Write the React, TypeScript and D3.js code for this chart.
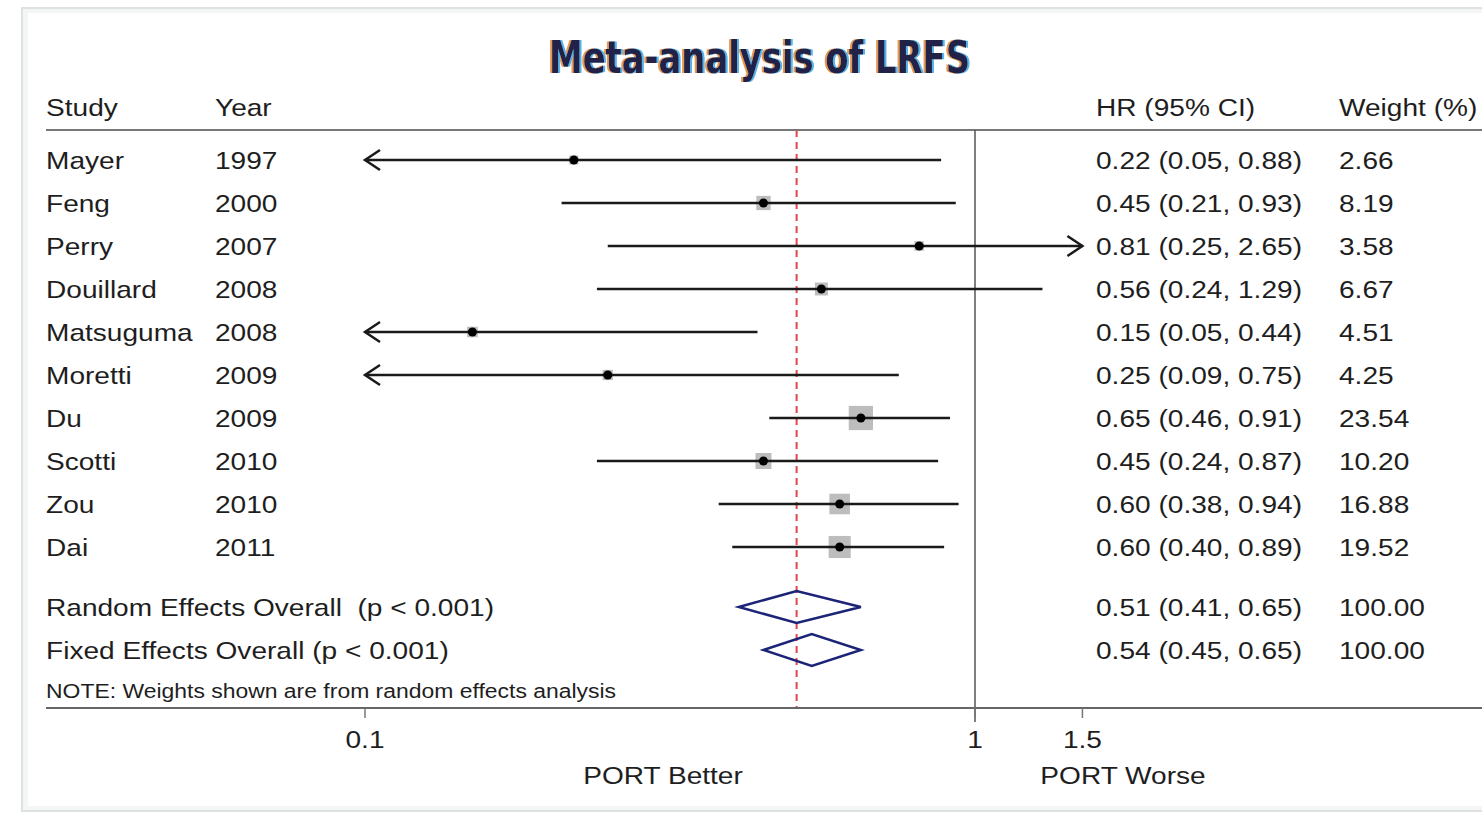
import * as d3 from "d3";

const studies = ["Mayer", "Feng", "Perry", "Douillard", "Matsuguma", "Moretti", "Du", "Scotti", "Zou", "Dai"];
const years = ["1997", "2000", "2007", "2008", "2008", "2009", "2009", "2010", "2010", "2011"];
const hr = [0.22, 0.45, 0.81, 0.56, 0.15, 0.25, 0.65, 0.45, 0.6, 0.6];
const lower = [0.05, 0.21, 0.25, 0.24, 0.05, 0.09, 0.46, 0.24, 0.38, 0.4];
const upper = [0.88, 0.93, 2.65, 1.29, 0.44, 0.75, 0.91, 0.87, 0.94, 0.89];
const weights = ["2.66", "8.19", "3.58", "6.67", "4.51", "4.25", "23.54", "10.20", "16.88", "19.52"];

const overallLabels = ["Random Effects Overall  (p < 0.001)", "Fixed Effects Overall (p < 0.001)"];
const overallHr = [0.51, 0.54];
const overallLower = [0.41, 0.45];
const overallUpper = [0.65, 0.65];
const overallWeights = ["100.00", "100.00"];

const tickValues = [0.1, 1, 1.5];

const fmt = (v: number) => v.toFixed(2);
const SX = 1.17; // reference text is stretched horizontally
const FONT = "'Liberation Sans', Arial, Helvetica, sans-serif";
const INK = "#1e1e1e";

function T({ x, y, children, size = 24, anchor = "start" }: { x: number; y: number; children: string; size?: number; anchor?: string }) {
  return (
    <text
      transform={`translate(${x},${y}) scale(${SX},1)`}
      fontSize={size}
      fontFamily={FONT}
      fill={INK}
      textAnchor={anchor}
      style={{ whiteSpace: "pre" }}
    >
      {children}
    </text>
  );
}

export default function App() {
  const width = 1482;
  const height = 814;
  const x = d3.scaleLog().domain([0.1, 1]).range([365, 975]);
  const xMin = 0.1;
  const xMax = 1.5;
  const rowY = d3.scaleLinear().domain([0, 1]).range([160, 203]);
  const overallY = [607, 650];
  const top = 130;
  const axisY = 708;
  const colStudy = 46, colYear = 215, colHr = 1096, colW = 1339;
  const sq = (w: number) => Math.max(9, 5 * Math.sqrt(w));
  const clip = (v: number) => Math.max(xMin, Math.min(xMax, v));

  return (
    <svg width={width} height={height} style={{ position: "fixed", left: 0, top: 0 }}>
      <defs>
        <filter id="fringe" x="-5%" y="-20%" width="110%" height="140%">
          <feFlood floodColor="#e39a55" result="orange" />
          <feComposite in="orange" in2="SourceAlpha" operator="in" result="o1" />
          <feOffset in="o1" dx={-2} dy={0} result="o2" />
          <feFlood floodColor="#5ab2e8" result="blue" />
          <feComposite in="blue" in2="SourceAlpha" operator="in" result="b1" />
          <feOffset in="b1" dx={2} dy={0} result="b2" />
          <feMerge>
            <feMergeNode in="o2" />
            <feMergeNode in="b2" />
            <feMergeNode in="SourceGraphic" />
          </feMerge>
        </filter>
      </defs>
      <rect x={0} y={0} width={width} height={height} fill="#ffffff" />
      <rect x={22} y={8} width={width} height={803} fill="#f3f6f5" stroke="#dde2e0" strokeWidth={2} />
      <rect x={28} y={13} width={width} height={793} fill="#ffffff" />

      {/* title */}
      <text
        x={549}
        y={73}
        fontFamily="'Liberation Sans Narrow', 'DejaVu Sans Condensed', sans-serif"
        fontWeight="bold"
        fontSize={44}
        fill="#22204a"
        textLength={421}
        lengthAdjust="spacingAndGlyphs"
        filter="url(#fringe)"
      >
        Meta-analysis of LRFS
      </text>

      {/* headers */}
      <T x={colStudy} y={116}>Study</T>
      <T x={colYear} y={116}>Year</T>
      <T x={colHr} y={116}>HR (95% CI)</T>
      <T x={colW} y={116}>Weight (%)</T>
      <line x1={46} x2={width} y1={top} y2={top} stroke="#777" strokeWidth={2} />

      {/* reference lines */}
      <line x1={x(1)} x2={x(1)} y1={top} y2={axisY + 14} stroke="#555" strokeWidth={1.5} />
      <line x1={x(overallHr[0])} x2={x(overallHr[0])} y1={top} y2={axisY} stroke="#e04848" strokeWidth={2} strokeDasharray="7,5" />

      {/* studies */}
      {studies.map((s, i) => {
        const cy = rowY(i);
        const lo = clip(lower[i]);
        const hi = clip(upper[i]);
        const side = sq(parseFloat(weights[i]));
        return (
          <g key={s}>
            <rect x={x(hr[i]) - side / 2} y={cy - side / 2} width={side} height={side} fill="#bdbdbd" />
            <line x1={x(lo)} x2={x(hi)} y1={cy} y2={cy} stroke="#1a1a1a" strokeWidth={2.3} />
            {lower[i] < xMin && (
              <path d={`M${x(xMin) + 15},${cy - 10} L${x(xMin)},${cy} L${x(xMin) + 15},${cy + 10}`} fill="none" stroke="#1a1a1a" strokeWidth={2.5} />
            )}
            {upper[i] > xMax && (
              <path d={`M${x(xMax) - 15},${cy - 10} L${x(xMax)},${cy} L${x(xMax) - 15},${cy + 10}`} fill="none" stroke="#1a1a1a" strokeWidth={2.5} />
            )}
            <circle cx={x(hr[i])} cy={cy} r={4.5} fill="#000" />
            <T x={colStudy} y={cy + 9}>{s}</T>
            <T x={colYear} y={cy + 9}>{years[i]}</T>
            <T x={colHr} y={cy + 9}>{`${fmt(hr[i])} (${fmt(lower[i])}, ${fmt(upper[i])})`}</T>
            <T x={colW} y={cy + 9}>{weights[i]}</T>
          </g>
        );
      })}

      {/* overall */}
      {overallLabels.map((lab, i) => {
        const cy = overallY[i];
        const h = 16;
        const d = `M${x(overallLower[i])},${cy} L${x(overallHr[i])},${cy - h} L${x(overallUpper[i])},${cy} L${x(overallHr[i])},${cy + h} Z`;
        return (
          <g key={lab}>
            <path d={d} fill="none" stroke="#1c2478" strokeWidth={2.5} strokeLinejoin="miter" />
            <T x={colStudy} y={cy + 9}>{lab}</T>
            <T x={colHr} y={cy + 9}>{`${fmt(overallHr[i])} (${fmt(overallLower[i])}, ${fmt(overallUpper[i])})`}</T>
            <T x={colW} y={cy + 9}>{overallWeights[i]}</T>
          </g>
        );
      })}

      <T x={colStudy} y={698} size={19.6}>NOTE: Weights shown are from random effects analysis</T>

      {/* axis */}
      <line x1={46} x2={width} y1={axisY} y2={axisY} stroke="#666" strokeWidth={2} />
      {tickValues.map((t) => (
        <g key={t}>
          <line x1={x(t)} x2={x(t)} y1={axisY} y2={axisY + 10} stroke="#777" strokeWidth={1.5} />
          <T x={x(t)} y={748} anchor="middle">{String(t)}</T>
        </g>
      ))}
      <T x={663} y={784} anchor="middle">PORT Better</T>
      <T x={1123} y={784} anchor="middle">PORT Worse</T>
    </svg>
  );
}
